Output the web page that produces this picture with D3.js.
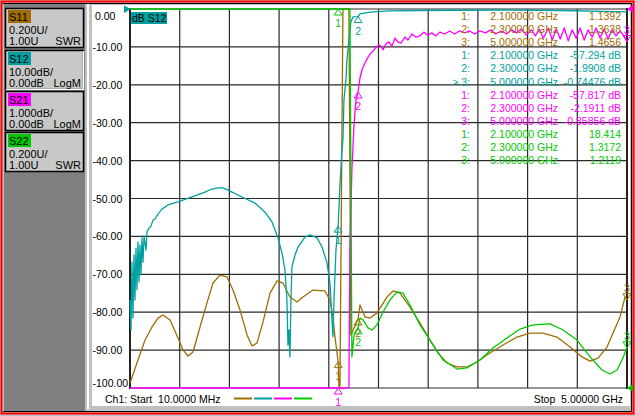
<!DOCTYPE html>
<html><head><meta charset="utf-8">
<script src="https://cdn.jsdelivr.net/npm/d3@7"></script>
<style>html,body{margin:0;padding:0;background:#c0c0c0;}svg{display:block;font-family:"Liberation Sans",Arial,sans-serif;}</style>
</head><body>
<svg id="c" width="635" height="416"></svg>
<script>
// ---------------- DATA ----------------
const traceNames = ["S11","S12","S21","S22"];
const traceScaleText = [["0.200U/","1.00U","SWR"],["10.00dB/","0.00dB","LogM"],["1.000dB/","0.00dB","LogM"],["0.200U/","1.00U","SWR"]];
const yTickLabels = ["0.00","-10.00","-20.00","-30.00","-40.00","-50.00","-60.00","-70.00","-80.00","-90.00","-100.00"];
const yTickValues = [0,-10,-20,-30,-40,-50,-60,-70,-80,-90,-100];
const startLabel = "Ch1: Start  10.0000 MHz";
const stopLabel = "Stop  5.00000 GHz";
const activeLabel = "dB S12";

// S11 (SWR) [GHz, SWR]
const s11 = [[0.010,1.026],[0.090,1.148],[0.161,1.253],[0.231,1.322],[0.291,1.369],[0.341,1.385],[0.412,1.359],[0.492,1.264],[0.542,1.201],[0.592,1.169],[0.643,1.190],[0.713,1.322],[0.783,1.449],[0.843,1.554],[0.914,1.596],[0.984,1.586],[1.044,1.517],[1.114,1.412],[1.185,1.280],[1.235,1.222],[1.285,1.237],[1.345,1.348],[1.416,1.501],[1.486,1.565],[1.546,1.554],[1.616,1.480],[1.687,1.454],[1.747,1.480],[1.847,1.517],[1.968,1.512],[2.018,1.464],[2.048,1.375],[2.068,1.269],[2.100,1.139],[2.108,1.005],[2.118,1.011],[2.148,3.5],[2.208,3.5],[2.228,1.280],[2.259,1.317],[2.300,1.364],[2.319,1.438],[2.370,1.375],[2.420,1.369],[2.490,1.396],[2.590,1.480],[2.651,1.512],[2.721,1.501],[2.821,1.427],[2.922,1.343],[3.022,1.253],[3.102,1.185],[3.193,1.132],[3.293,1.111],[3.393,1.111],[3.494,1.137],[3.624,1.185],[3.755,1.227],[3.895,1.269],[4.026,1.290],[4.157,1.290],[4.297,1.269],[4.428,1.216],[4.548,1.164],[4.629,1.142],[4.709,1.158],[4.799,1.216],[4.860,1.290],[4.930,1.375],[4.980,1.480],[5.000,1.466]];
// S12 (dB) [GHz, dB]
const s12 = [[0.010,-76.8],[0.020,-84.7],[0.030,-66.8],[0.040,-81.5],[0.050,-64.9],[0.060,-76.8],[0.070,-63.1],[0.080,-74.1],[0.090,-61.5],[0.100,-72.0],[0.110,-62.3],[0.120,-70.2],[0.130,-60.4],[0.141,-66.8],[0.151,-59.9],[0.171,-63.6],[0.181,-58.8],[0.201,-57.8],[0.221,-57.3],[0.241,-55.7],[0.261,-55.4],[0.291,-54.1],[0.331,-52.8],[0.392,-51.7],[0.492,-50.9],[0.632,-49.6],[0.763,-48.3],[0.833,-47.5],[0.894,-47.2],[0.944,-47.2],[0.994,-47.8],[1.135,-49.6],[1.265,-51.2],[1.366,-53.6],[1.436,-56.2],[1.496,-60.4],[1.536,-64.4],[1.566,-68.9],[1.586,-76.8],[1.596,-88.7],[1.606,-84.7],[1.616,-91.8],[1.626,-76.8],[1.636,-68.1],[1.667,-64.9],[1.697,-62.8],[1.767,-60.2],[1.817,-59.6],[1.888,-60.4],[1.938,-62.8],[1.988,-67.0],[2.018,-72.3],[2.038,-82.1],[2.048,-86.5],[2.058,-76.8],[2.078,-63.6],[2.100,-57.3],[2.118,-46.4],[2.138,-37.2],[2.148,-34.6],[2.158,-24.0],[2.178,-18.7],[2.188,-13.5],[2.208,-8.2],[2.218,-5.5],[2.228,-3.4],[2.249,-2.1],[2.300,-1.99],[2.319,-1.3],[2.420,-0.8],[2.620,-0.5],[2.922,-0.4],[3.725,-0.26],[4.327,-0.4],[5.000,-0.74]];
// S21 (dB) [GHz, dB]
const s21 = [[0.010,-78],[0.300,-55],[0.900,-47],[1.300,-52],[1.600,-88],[1.800,-60],[2.050,-84],[2.100,-57.8],[2.150,-33],[2.208,-10.4],[2.218,-6.28],[2.238,-4.25],[2.259,-3.06],[2.279,-2.40],[2.300,-2.19],[2.319,-1.82],[2.339,-1.61],[2.370,-1.42],[2.400,-1.27],[2.430,-1.16],[2.460,-1.08],[2.490,-0.98],[2.520,-0.95],[2.550,-1.08],[2.580,-0.92],[2.610,-0.87],[2.640,-0.98],[2.670,-0.77],[2.700,-0.87],[2.730,-0.90],[2.770,-0.74],[2.800,-0.82],[2.840,-0.66],[2.880,-0.74],[2.920,-0.71],[2.960,-0.61],[3.000,-0.69],[3.040,-0.63],[3.080,-0.71],[3.120,-0.61],[3.170,-0.66],[3.220,-0.58],[3.270,-0.66],[3.320,-0.58],[3.370,-0.63],[3.420,-0.58],[3.470,-0.66],[3.520,-0.58],[3.580,-0.63],[3.630,-0.55],[3.680,-0.66],[3.740,-0.58],[3.790,-0.66],[3.840,-0.55],[3.890,-0.63],[3.940,-0.53],[3.990,-0.69],[4.040,-0.55],[4.080,-0.71],[4.120,-0.53],[4.160,-0.77],[4.210,-0.50],[4.250,-0.82],[4.290,-0.53],[4.330,-0.79],[4.370,-0.50],[4.410,-0.84],[4.450,-0.55],[4.490,-0.77],[4.530,-0.50],[4.570,-0.82],[4.610,-0.55],[4.650,-0.74],[4.690,-0.50],[4.730,-0.77],[4.770,-0.53],[4.810,-0.79],[4.850,-0.55],[4.890,-0.71],[4.930,-0.58],[4.970,-0.71],[5.000,-0.86]];
// S22 (SWR) [GHz, SWR]
const s22 = [[0.010,3.5],[2.218,3.5],[2.238,1.164],[2.259,1.280],[2.300,1.317],[2.319,1.369],[2.349,1.359],[2.400,1.317],[2.440,1.306],[2.490,1.333],[2.550,1.401],[2.620,1.464],[2.691,1.507],[2.751,1.501],[2.821,1.438],[2.922,1.333],[3.022,1.253],[3.153,1.148],[3.293,1.100],[3.393,1.106],[3.524,1.148],[3.654,1.211],[3.795,1.264],[3.926,1.311],[4.056,1.333],[4.227,1.338],[4.358,1.306],[4.498,1.253],[4.629,1.164],[4.749,1.095],[4.830,1.074],[4.900,1.095],[4.950,1.148],[5.000,1.212]];

const markerFreqs = [2.1, 2.3, 5.0];
const s11Markers = [1.1392, 1.3638, 1.4656];
const s12Markers = [-57.294, -1.9908, -0.74476];
const s21Markers = [-57.817, -2.1911, -0.85856];
const s22Markers = [18.414, 1.3172, 1.2119];

// ---------------- DRAW ----------------
const col = {S11:"#a06c00", S12:"#00a0a0", S21:"#ff00ff", S22:"#00c800"};
const svg = d3.select("#c");
const FONT = 10.5;

const x = d3.scaleLinear().domain([0.01, 5.0]).range([130, 627]);
const yDb10 = d3.scaleLinear().domain([-100, 0]).range([388, 9]).clamp(true);
const yDb1 = d3.scaleLinear().domain([-10, 0]).range([388, 9]).clamp(true);
const ySwr = d3.scaleLinear().domain([1, 3]).range([388, 9]).clamp(true);

// frame
svg.append("rect").attr("x",0).attr("y",0).attr("width",635).attr("height",416).attr("fill","#c0c0c0");
svg.append("rect").attr("x",4).attr("y",4).attr("width",81).attr("height",407).attr("fill","#808080");
svg.append("rect").attr("x",87).attr("y",4).attr("width",2).attr("height",405).attr("fill","#ffffff");
svg.append("rect").attr("x",92).attr("y",5).attr("width",538).attr("height",401).attr("fill","#ffffff");
svg.append("rect").attr("x",1.5).attr("y",1.5).attr("width",632).attr("height",412).attr("fill","none").attr("stroke","#ff0000").attr("stroke-width",2);
svg.append("line").attr("x1",3).attr("x2",632).attr("y1",3.5).attr("y2",3.5).attr("stroke","#000");
svg.append("line").attr("x1",3).attr("x2",632).attr("y1",411.5).attr("y2",411.5).attr("stroke","#000");
svg.append("line").attr("x1",631.5).attr("x2",631.5).attr("y1",3).attr("y2",412).attr("stroke","#000");

// left panel boxes
const boxTops = [8, 50, 91, 132];
traceNames.forEach((n,i)=>{
  const ty = boxTops[i];
  const g = svg.append("g");
  g.append("rect").attr("x",5.5).attr("y",ty+0.5).attr("width",78).attr("height",39).attr("fill","#c8c8c8").attr("stroke","#000").attr("stroke-width",1.5);
  if(i===1){
    g.append("path").attr("d",`M83.5,${ty+1} L83.5,${ty+39.5} L6,${ty+39.5}`).attr("stroke","#fff").attr("stroke-width",1.5).attr("fill","none");
  }
  g.append("rect").attr("x",8).attr("y",ty+2).attr("width",23).attr("height",13).attr("fill",col[n]);
  g.append("text").attr("x",9).attr("y",ty+13).attr("font-size",11).attr("fill","#000").text(n);
  g.append("text").attr("x",9).attr("y",ty+25.5).attr("font-size",11).attr("fill","#000").text(traceScaleText[i][0]);
  g.append("text").attr("x",9).attr("y",ty+36.5).attr("font-size",11).attr("fill","#000").text(traceScaleText[i][1]);
  g.append("text").attr("x",81).attr("y",ty+36.5).attr("font-size",11).attr("text-anchor","end").attr("fill","#000").text(traceScaleText[i][2]);
});

// grid
const xDivs = d3.range(11).map(i => x.domain()[0] + i*(x.domain()[1]-x.domain()[0])/10);
const grid = svg.append("g").attr("stroke","#2a2a2a").attr("stroke-width",1.2);
xDivs.forEach(v=>grid.append("line").attr("x1",x(v)).attr("x2",x(v)).attr("y1",9).attr("y2",388));
yTickValues.forEach(v=>grid.append("line").attr("x1",130).attr("x2",627).attr("y1",yDb10(v)).attr("y2",yDb10(v)));
svg.append("line").attr("x1",130).attr("x2",130).attr("y1",8).attr("y2",389).attr("stroke","#222").attr("stroke-width",2);
svg.append("line").attr("x1",627).attr("x2",627).attr("y1",8).attr("y2",389).attr("stroke","#222").attr("stroke-width",2);

// y labels
yTickValues.forEach((v,i)=>{
  const cy = Math.min(383, Math.max(16, yDb10(v)));
  svg.append("text").attr("x", v===0 ? 95 : 92.5).attr("y", cy+4).attr("font-size",FONT).attr("fill","#000").text(yTickLabels[i]);
});

// traces
svg.append("clipPath").attr("id","pc").append("rect").attr("x",129).attr("y",8).attr("width",499).attr("height",381);
const traces = [["S11", s11, ySwr],["S12", s12, yDb10],["S21", s21, yDb1],["S22", s22, ySwr]];
const tg = svg.append("g").attr("clip-path","url(#pc)");
traces.forEach(([n,data,ys])=>{
  const line = d3.line().x(d=>x(d[0])).y(d=>ys(d[1]));
  tg.append("path").attr("d", line(data)).attr("fill","none").attr("stroke",col[n]).attr("stroke-width",1.3).attr("stroke-linejoin","round");
});

// reference triangles
svg.append("path").attr("d","M124,5.5 L131,9 L124,13 Z").attr("fill",col.S12);
svg.append("path").attr("d","M627,9 L633,5 L633,13 Z").attr("fill",col.S21);
svg.append("path").attr("d","M627,388 L633,384 L633,392 Z").attr("fill",col.S22);

// markers
const markerSets = [["S11", s11Markers, ySwr],["S12", s12Markers, yDb10],["S21", s21Markers, yDb1],["S22", s22Markers, ySwr]];
markerSets.forEach(([n, vals, ys])=>{
  vals.forEach((v,k)=>{
    const mx = x(markerFreqs[k]), my = ys(v);
    if(k<2){
      svg.append("path").attr("d",`M${mx},${my} L${mx-4},${my+6} L${mx+4},${my+6} Z`).attr("fill","none").attr("stroke",col[n]).attr("stroke-width",1);
      svg.append("text").attr("x",mx).attr("y",my+18).attr("font-size",FONT).attr("text-anchor","middle").attr("fill",col[n]).text(k+1);
    } else {
      if(my - 9 < 8) return;
      svg.append("path").attr("d",`M${mx},${my} L${mx-4},${my-6} L${mx+4},${my-6} Z`).attr("fill","none").attr("stroke",col[n]).attr("stroke-width",1);
      svg.append("text").attr("x",mx).attr("y",my-8).attr("font-size",FONT).attr("text-anchor","middle").attr("fill",col[n]).text(k+1);
    }
  });
});

// active trace label
svg.append("rect").attr("x",131).attr("y",12).attr("width",36).attr("height",12).attr("fill",col.S12);
svg.append("text").attr("x",132).attr("y",22).attr("font-size",FONT).attr("fill","#000").text(activeLabel);

// marker table
const fmtF = d3.format(".6f");
const fmtV = v => d3.format(".5r")(v).replace("\u2212","-");
let row = 0;
markerSets.forEach(([n, vals])=>{
  const unit = (n==="S12"||n==="S21") ? " dB" : "";
  vals.forEach((v,k)=>{
    const by = 16 + 13.1*row + 4;
    const lab = (n==="S12" && k===2) ? "> " + (k+1) + ":" : (k+1) + ":";
    svg.append("text").attr("x",470).attr("y",by).attr("font-size",FONT).attr("text-anchor","end").attr("fill",col[n]).text(lab);
    svg.append("text").attr("x",558).attr("y",by).attr("font-size",FONT).attr("text-anchor","end").attr("fill",col[n]).text(fmtF(markerFreqs[k]) + " GHz");
    svg.append("text").attr("x",621).attr("y",by).attr("font-size",FONT).attr("text-anchor","end").attr("fill",col[n]).text(fmtV(v) + unit);
    row++;
  });
});

// bottom labels
svg.append("text").attr("x",105).attr("y",403).attr("font-size",FONT).attr("fill","#000").attr("xml:space","preserve").style("white-space","pre").text(startLabel);
svg.append("text").attr("x",623).attr("y",403).attr("font-size",FONT).attr("text-anchor","end").attr("fill","#000").style("white-space","pre").text(stopLabel);
const legX = [234, 254, 274, 294];
traceNames.forEach((n,i)=>{
  svg.append("line").attr("x1",legX[i]).attr("x2",legX[i]+18).attr("y1",398.5).attr("y2",398.5).attr("stroke",col[n]).attr("stroke-width",2);
});
</script>
</body></html>
